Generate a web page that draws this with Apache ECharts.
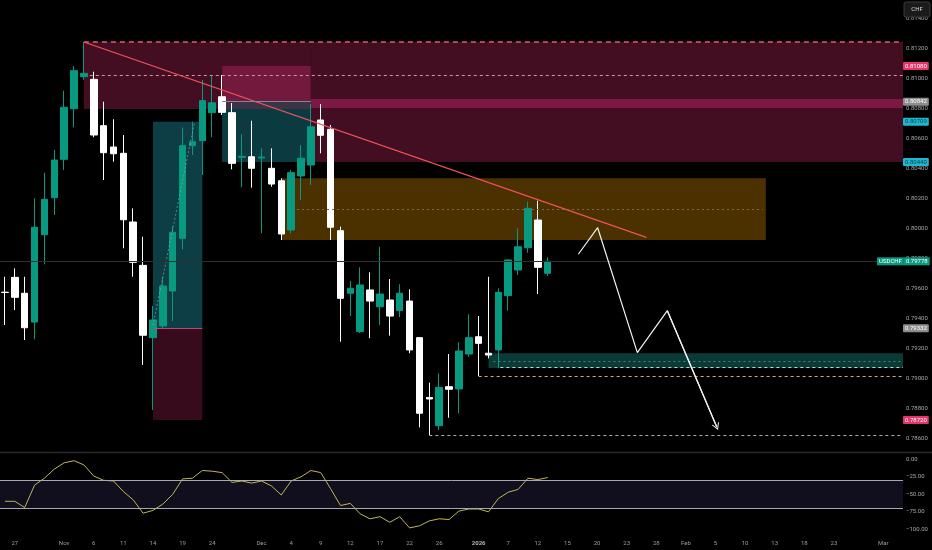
<!DOCTYPE html>
<html>
<head>
<meta charset="utf-8">
<script src="https://cdn.jsdelivr.net/npm/echarts@6/dist/echarts.min.js"></script>
<style>
html,body{margin:0;padding:0;background:#000;}
#c{width:932px;height:550px;}
</style>
</head>
<body>
<div id="c"></div>
<script>
// ---------- data ----------
const dates = ['2025-10-24','2025-10-27','2025-10-28','2025-10-29','2025-10-30','2025-10-31',
 '2025-11-03','2025-11-04','2025-11-05','2025-11-06','2025-11-07','2025-11-10','2025-11-11','2025-11-12',
 '2025-11-13','2025-11-14','2025-11-17','2025-11-18','2025-11-19','2025-11-20','2025-11-21','2025-11-24',
 '2025-11-25','2025-11-26','2025-11-27','2025-11-28','2025-12-01','2025-12-02','2025-12-03','2025-12-04',
 '2025-12-05','2025-12-08','2025-12-09','2025-12-10','2025-12-11','2025-12-12','2025-12-15','2025-12-16',
 '2025-12-17','2025-12-18','2025-12-19','2025-12-22','2025-12-23','2025-12-24','2025-12-26','2025-12-29',
 '2025-12-30','2025-12-31','2026-01-02','2026-01-05','2026-01-06','2026-01-07','2026-01-08','2026-01-09',
 '2026-01-12','2026-01-13'];
const open  = [0.79572,0.79671,0.79565,0.79373,0.79955,0.80202,0.80458,0.80795,0.81009,0.80991,
 0.80682,0.80540,0.80498,0.80040,0.79751,0.79269,0.79347,0.79580,0.79931,0.80549,
 0.80582,0.80769,0.80875,0.80769,0.80471,0.80475,0.80467,0.80398,0.80315,0.79987,
 0.80347,0.80420,0.80720,0.80658,0.79982,0.79565,0.79309,0.79587,0.79475,0.79520,
 0.79449,0.79513,0.79269,0.78870,0.78682,0.78942,0.78927,0.79160,0.79275,0.79165,
 0.79187,0.79549,0.79720,0.79869,0.80053,0.79698];
const close = [0.79570,0.79538,0.79335,0.80005,0.80191,0.80453,0.80805,0.81049,0.81031,0.80620,
 0.80502,0.80495,0.80055,0.79771,0.79285,0.79387,0.79613,0.79971,0.80549,0.80575,
 0.80849,0.80835,0.80771,0.80431,0.80478,0.80398,0.80473,0.80293,0.79960,0.80369,
 0.80465,0.80675,0.80618,0.80005,0.79531,0.79598,0.79620,0.79513,0.79560,0.79413,
 0.79565,0.79187,0.78765,0.78860,0.78938,0.78925,0.79180,0.79269,0.79231,0.79153,
 0.79571,0.79787,0.79875,0.80131,0.79738,0.79778];
const low   = [0.79353,0.79453,0.79253,0.79258,0.79758,0.80087,0.80387,0.80671,0.80987,0.80605,
 0.80320,0.80442,0.79865,0.79675,0.79087,0.78787,0.79325,0.79380,0.79858,0.80487,
 0.80353,0.80605,0.80753,0.80391,0.80271,0.80269,0.79965,0.80275,0.79920,0.79965,
 0.80187,0.80287,0.80498,0.79920,0.79242,0.79413,0.79300,0.79265,0.79353,0.79282,
 0.79405,0.79165,0.78671,0.78620,0.78653,0.78735,0.78765,0.79140,0.79013,0.79131,
 0.79065,0.79449,0.79687,0.79835,0.79560,0.79680];
const high  = [0.79675,0.79731,0.79675,0.80198,0.80369,0.80520,0.80915,0.81080,0.81240,0.81042,
 0.80842,0.80725,0.80620,0.80131,0.79942,0.79480,0.79675,0.80009,0.80669,0.80709,
 0.80987,0.81020,0.81020,0.80833,0.80625,0.80715,0.80531,0.80531,0.80331,0.80387,
 0.80553,0.80827,0.80827,0.80687,0.80009,0.79647,0.79738,0.79705,0.79875,0.79660,
 0.79625,0.79591,0.79269,0.78969,0.79031,0.79160,0.79238,0.79425,0.79413,0.79675,
 0.79598,0.79791,0.79998,0.80175,0.80182,0.79805];
const wpr = [-60,-60,-69,-37,-27,-14,-5,-2,-8,-24,-30,-31,-46,-58,-77,-73,-64,-50,-28,-27,
 -16,-17,-19,-33,-31,-34,-31,-38,-51,-31,-25,-16,-19,-42,-66,-63,-78,-85,-82,-90,
 -82,-98,-95,-88,-85,-86,-74,-71,-71,-75,-56,-47,-43,-27,-29,-26];

const priceTicks = [0.786,0.788,0.790,0.792,0.794,0.796,0.798,0.800,0.802,0.804,0.806,0.808,0.810,0.812,0.814];
const oscTicks = [0,-25,-50,-75,-100];
const timeTicks = [[1,'27'],[6,'Nov'],[9,'6'],[12,'11'],[15,'14'],[18,'19'],[21,'24'],[26,'Dec'],
 [29,'4'],[32,'9'],[35,'12'],[38,'17'],[41,'22'],[44,'26'],[48,'2026'],[51,'7'],[54,'12'],
 [57,'15'],[60,'20'],[63,'23'],[66,'28'],[69,'Feb'],[72,'5'],[75,'10'],[78,'13'],[81,'18'],
 [84,'23'],[89,'Mar']];

// drawings (bar index, price)
const zoneRects = [
 [8, 0.8124, 22, 0.80793],
 [22, 0.8124, 31, 0.8108],
 [22, 0.8108, 31, 0.80842],
 [22, 0.80842, 31, 0.80793],
 [22, 0.80793, 31, 0.8044],
 [31, 0.8124, 91, 0.80860],
 [31, 0.80860, 91, 0.80796],
 [31, 0.80796, 91, 0.8044],
 [15, 0.80709, 20, 0.79332],
 [15, 0.79332, 20, 0.7872],
 [28, 0.80331, 77.1, 0.7992],
 [49, 0.79165, 91, 0.79067]
];
const trendline = [[8, 0.8124], [65, 0.79938]];
const projection = [[58.1, 0.79825], [60.06, 0.80002], [64.08, 0.79169], [67.12, 0.79449], [72.12, 0.78675]];
const lastPrice = 0.79778;
const axisTags = [0.8108, 0.80842, 0.80709, 0.8044, 0.79332, 0.7872];
const oscBand = [-30, -70];

// ---------- chart ----------
const X_MIN = -0.5, X_MAX = 91;
const candleData = open.map((o, i) => [i, o, close[i], low[i], high[i]]);
const wprData = wpr.map((v, i) => [i, v]);
const tickMap = {};
timeTicks.forEach(t => { tickMap[t[0]] = t[1]; });

const zoneColors = ['#440e22','#440e22','#72193d','#3b3447','#0b3a40','#440e22','#7c1844','#440e22',
 '#0d3d45','#370b1b','#4b3100','#0b3b36'];
const markAreaData = zoneRects.map((r, i) => [
  {coord: [r[0], r[1]], itemStyle: {color: zoneColors[i]}},
  {coord: [r[2], r[3]]}
]);

function seg(a, b, style) { return [{coord: a, lineStyle: style}, {coord: b}]; }
const tagStyles = [
  {bg: '#e5336b', fg: '#ffffff'},
  {bg: '#8e8e8e', fg: '#ffffff'},
  {bg: '#20b6cc', fg: '#0a3f4c'},
  {bg: '#20b6cc', fg: '#0a3f4c'},
  {bg: '#8e8e8e', fg: '#ffffff'},
  {bg: '#e5336b', fg: '#ffffff'}
];
const tagLines = axisTags.map((v, i) => [
  {coord: [X_MIN, v], lineStyle: {width: 0, color: 'rgba(0,0,0,0)', opacity: 1},
   label: {show: true, position: 'end', distance: 0, opacity: 1, formatter: v.toFixed(5),
    backgroundColor: tagStyles[i].bg, color: tagStyles[i].fg, padding: [1, 2, 1, 2],
    fontSize: 6, fontFamily: 'Roboto', borderRadius: 1}},
  {coord: [X_MAX, v]}
]);
const lastLine = [
  {coord: [X_MIN, lastPrice], lineStyle: {color: '#2e2e2e', width: 1, type: 'solid'},
   label: {show: true, position: 'end', distance: -26,
     formatter: '{a|USDCHF}{b|' + lastPrice.toFixed(5) + '}',
     rich: {
       a: {backgroundColor: '#089981', color: '#ffffff', padding: [1, 2, 1, 2], fontSize: 6, fontFamily: 'Roboto'},
       b: {backgroundColor: '#089981', color: '#ffffff', padding: [1, 2, 1, 2], fontSize: 6, fontFamily: 'Roboto'}
     }}},
  {coord: [X_MAX, lastPrice]}
];

const mainLines = [
  seg([trendline[0][0], 0.8124], [X_MAX, 0.8124], {color: '#e3577f', width: 1.5, type: [5, 4]}),
  seg([8.6, 0.8102], [X_MAX, 0.8102], {color: '#d98fab', width: 1, type: [3, 3]}),
  seg(trendline[0], trendline[1], {color: '#f0525c', width: 1.3, type: 'solid'}),
  seg([29.6, 0.80127], [76.8, 0.80127], {color: '#7d6a4f', width: 1, type: [2, 3]}),
  seg([49.5, 0.79113], [X_MAX, 0.79113], {color: '#4f7d74', width: 1, type: [2, 3]}),
  seg([50.2, 0.79069], [X_MAX, 0.79069], {color: '#c9d6c6', width: 1, type: [3, 3]}),
  seg([48, 0.79013], [X_MAX, 0.79013], {color: '#cfae6e', width: 1, type: [3, 3]}),
  seg([43, 0.7862], [X_MAX, 0.7862], {color: '#a9a9a9', width: 1, type: [3, 3]}),
  seg([15, 0.79332], [20, 0.79332], {color: '#b84a72', width: 1, type: 'solid'}),
  seg([15, 0.7935], [19.2, 0.8070], {color: '#8db5b5', width: 1, type: [2, 2], opacity: 0.6}),
  seg([22, 0.80842], [31, 0.80842], {color: '#7c8a99', width: 1, type: 'solid'})
];

const option = {
  backgroundColor: '#000000',
  animation: false,
  textStyle: {fontFamily: 'Roboto'},
  grid: [
    {left: 0, right: 29, top: 0, height: 452, outerBoundsMode: 'none'},
    {left: 0, right: 29, top: 452, height: 84, outerBoundsMode: 'none'}
  ],
  xAxis: [
    {gridIndex: 0, type: 'value', min: X_MIN, max: X_MAX, show: false},
    {gridIndex: 1, type: 'value', min: X_MIN, max: X_MAX,
      axisLine: {show: false}, axisTick: {show: false}, splitLine: {show: false},
      axisLabel: {
        customValues: timeTicks.map(t => t[0]),
        formatter: v => { const t = tickMap[Math.round(v)]; return t == null ? '' : (t === '2026' ? '{b|' + t + '}' : t); },
        color: '#9c9c9c', fontSize: 6, margin: 4,
        rich: {b: {fontWeight: 'bold', color: '#b8b8b8', fontSize: 6}}
      }}
  ],
  yAxis: [
    {gridIndex: 0, type: 'value', position: 'right', min: 0.8152 - 452 / 15000, max: 0.8152,
      axisLine: {show: false}, axisTick: {show: false}, splitLine: {show: false},
      axisLabel: {customValues: priceTicks, formatter: v => v.toFixed(5), color: '#a8a8a8', fontSize: 6, margin: 3}},
    {gridIndex: 1, type: 'value', position: 'right', min: -(536 - 459.3) / 0.7, max: (459.3 - 452) / 0.7,
      axisLine: {show: false}, axisTick: {show: false}, splitLine: {show: false},
      axisLabel: {customValues: oscTicks, formatter: v => v === 0 ? '0.00' : '\u2212' + Math.abs(v).toFixed(2),
        color: '#a8a8a8', fontSize: 6, margin: 3}}
  ],
  series: [
    {
      type: 'candlestick', xAxisIndex: 0, yAxisIndex: 0, data: candleData, barWidth: 7, z: 3,
      itemStyle: {color: '#089981', color0: '#ffffff', borderColor: '#089981', borderColor0: '#ffffff', borderWidth: 1},
      markArea: {silent: true, label: {show: false}, data: markAreaData},
      markLine: {silent: true, symbol: ['none', 'none'], label: {show: false}, data: mainLines}
    },
    {
      type: 'line', xAxisIndex: 0, yAxisIndex: 0, data: projection, z: 6,
      showSymbol: false, symbol: 'none',
      lineStyle: {color: '#f2f2f2', width: 1.2},
      markLine: {
        silent: true, symbol: ['none', 'path://M5,0 L10,10 L8.6,10 L5,3 L1.4,10 L0,10 Z'], symbolSize: [8, 7],
        label: {show: false},
        lineStyle: {color: '#f2f2f2', width: 1.2, type: 'solid'},
        data: [[{coord: projection[3]}, {coord: projection[4]}]]
      }
    },
    {
      type: 'line', xAxisIndex: 0, yAxisIndex: 0, data: [[X_MIN, lastPrice]], z: 4,
      showSymbol: false, symbol: 'none', lineStyle: {opacity: 0},
      markLine: {silent: true, symbol: ['none', 'none'], label: {show: false},
        data: [lastLine].concat(tagLines)}
    },
    {
      type: 'line', xAxisIndex: 1, yAxisIndex: 1, data: wprData, z: 3,
      showSymbol: false, symbol: 'none',
      lineStyle: {color: '#bdb856', width: 1},
      markArea: {silent: true, label: {show: false},
        data: [[{coord: [X_MIN, oscBand[0]], itemStyle: {color: '#110e1d'}}, {coord: [X_MAX, oscBand[1]]}]]},
      markLine: {silent: true, symbol: ['none', 'none'], label: {show: false},
        lineStyle: {color: '#a8a8b0', width: 1, type: 'solid'},
        data: [{yAxis: oscBand[0]}, {yAxis: oscBand[1]}]}
    }
  ],
  graphic: [
    {type: 'line', shape: {x1: 0, y1: 452.5, x2: 932, y2: 452.5}, style: {stroke: '#2a2a2a', lineWidth: 1.5}, z: 50, silent: true},
    {type: 'rect', shape: {x: 904, y: 2, width: 26, height: 15, r: 2}, style: {fill: '#1a1a1a', stroke: '#3a3a3a', lineWidth: 1}, z: 100, silent: true},
    {type: 'text', x: 917, y: 9.5, style: {text: 'CHF', fill: '#d6d6d6', fontSize: 6, fontFamily: 'Roboto', align: 'center', verticalAlign: 'middle'}, z: 101, silent: true}
  ]
};

const chart = echarts.init(document.getElementById('c'));
chart.setOption(option);
</script>
</body>
</html>
